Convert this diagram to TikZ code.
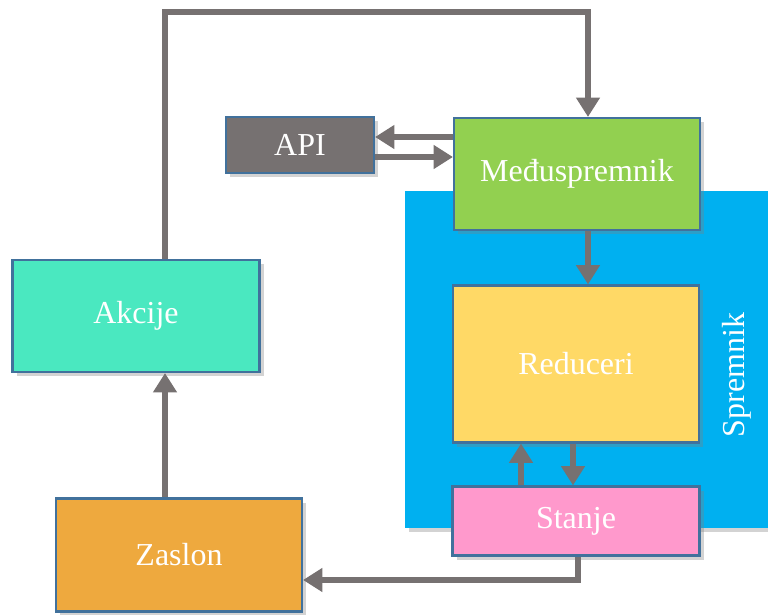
\documentclass[tikz,border=0pt]{standalone}
\usepackage{fontspec}
\setmainfont{Liberation Serif}
\usetikzlibrary{arrows.meta,shadows,positioning}

\definecolor{apigray}{HTML}{767171}
\definecolor{medgreen}{HTML}{92D050}
\definecolor{redyellow}{HTML}{FFD966}
\definecolor{stapink}{HTML}{FF99CC}
\definecolor{akcteal}{HTML}{4AE8C0}
\definecolor{zasorange}{HTML}{EEA93E}
\definecolor{sprblue}{HTML}{00B0F0}
\definecolor{boxedge}{HTML}{41719C}

\tikzset{
  box/.style={draw=boxedge,line width=1.2pt,text=white,
    font=\fontsize{18.2}{21}\selectfont,
    drop shadow={opacity=0.35,shadow xshift=2.5pt,shadow yshift=-2.5pt}},
  flow/.style={draw=apigray,line width=3.3pt,
    -{Triangle[length=11pt,width=13pt]}}
}

\begin{document}
\begin{tikzpicture}[x=0.02cm,y=-0.02cm]
		\useasboundingbox (0,0) rectangle (768,615);

		% store background
		\fill[sprblue,drop shadow={opacity=0.35,shadow xshift=2.5pt,shadow yshift=-2.5pt}]
			(405,191) rectangle (768,528);
		\node[rotate=90,text=white,font=\fontsize{18.2}{21}\selectfont]
			(spr) at (737,375) {Spremnik};

		\begin{scope}[every node/.style={box}]
			\node[fill=apigray,minimum width=2.96cm,minimum height=1.12cm]
				(api) at (300,145) {API};
			\node[fill=medgreen,minimum width=4.92cm,minimum height=2.24cm]
				(med) at (577,174) {Međuspremnik};
			\node[fill=redyellow,minimum width=4.92cm,minimum height=3.14cm]
				(red) at (576,364) {Reduceri};
			\node[fill=stapink,minimum width=4.94cm,minimum height=1.38cm]
				(sta) at (576,521) {Stanje};
			\node[fill=akcteal,minimum width=4.94cm,minimum height=2.24cm]
				(akc) at (136,316) {Akcije};
			\node[fill=zasorange,minimum width=4.92cm,minimum height=2.26cm]
				(zas) at (179,555) {Zaslon};
		\end{scope}

		\coordinate (top) at (400,12);

		\begin{scope}[every path/.style={flow}]
			\draw ([xshift=0.58cm]akc.north) |- (top) -| ([xshift=0.22cm]med.north);
			\draw ([yshift=0.74cm]med.west) -- ([yshift=0.74cm]med.west -| api.east);
			\draw ([yshift=-0.24cm]api.east) -- ([yshift=-0.24cm]api.east -| med.west);
			\draw ([xshift=0.22cm]med.south) -- ([xshift=0.22cm]med.south |- red.north);
			\draw ([xshift=-1.1cm]sta.north) -- ([xshift=-1.1cm]sta.north |- red.south);
			\draw ([xshift=-0.06cm]red.south) -- ([xshift=-0.06cm]red.south |- sta.north);
			\draw ([xshift=0.04cm]sta.south) |- ([yshift=-0.5cm]zas.east);
			\draw ([xshift=-0.28cm]zas.north) -- ([xshift=-0.28cm]zas.north |- akc.south);
		\end{scope}
	\end{tikzpicture}
\end{document}
